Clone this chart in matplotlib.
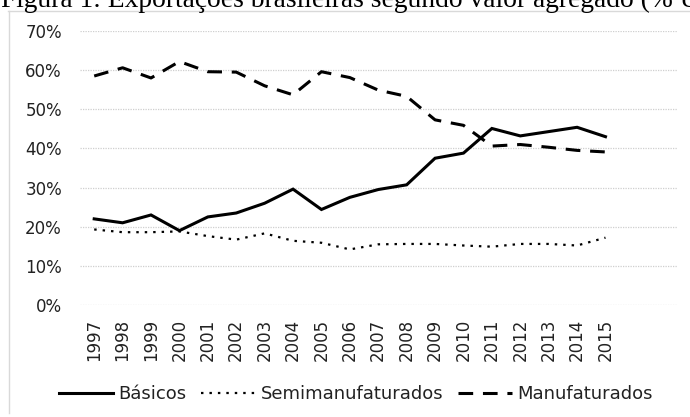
import matplotlib
matplotlib.use("Agg")
import matplotlib.pyplot as plt
from matplotlib.lines import Line2D
from matplotlib.ticker import FuncFormatter, MultipleLocator

years = ["1997", "1998", "1999", "2000", "2001", "2002", "2003", "2004", "2005", "2006",
         "2007", "2008", "2009", "2010", "2011", "2012", "2013", "2014", "2015"]
basicos = [22.0, 21.0, 23.0, 19.0, 22.5, 23.5, 26.0, 29.6, 24.4, 27.5,
           29.5, 30.7, 37.5, 38.8, 45.1, 43.2, 44.3, 45.4, 43.0]
semimanufaturados = [19.3, 18.6, 18.6, 18.8, 17.6, 16.7, 18.3, 16.4, 15.9, 14.2,
                     15.5, 15.6, 15.6, 15.2, 14.9, 15.6, 15.6, 15.2, 17.2]
manufaturados = [58.5, 60.6, 58.0, 62.2, 59.6, 59.5, 56.0, 53.7, 59.6, 58.1,
                 54.9, 53.3, 47.3, 45.9, 40.6, 41.0, 40.3, 39.5, 39.1]
series_names = ["Básicos", "Semimanufaturados", "Manufaturados"]
title_text = "Figura 1: Exportações brasileiras segundo valor agregado (% US$ FOB)"

W, H = 690, 417
fig = plt.figure(figsize=(W / 100, H / 100), dpi=100)

# axes placement in pixels
left_px, right_px, top_px, bottom_px = 80, 676.5, 31, 305
ax = fig.add_axes([left_px / W, 1 - bottom_px / H, (right_px - left_px) / W, (bottom_px - top_px) / H])

x = list(range(len(years)))
lw = 2.2
ax.plot(x, basicos, color="black", lw=lw, solid_joinstyle="miter", label=series_names[0])
l2, = ax.plot(x, semimanufaturados, color="black", lw=1.6, label=series_names[1])
l2.set_dashes([1.1, 2.7])
l3, = ax.plot(x, manufaturados, color="black", lw=lw, label=series_names[2])
l3.set_dashes([4.8, 3.2])

ax.set_xlim(-0.5, 20.5)
ax.set_ylim(0, 70)
ax.yaxis.set_major_locator(MultipleLocator(10))
ax.yaxis.set_major_formatter(FuncFormatter(lambda v, p: f"{v:.0f}%"))
ax.set_xticks(x)
ax.set_xticklabels(years, rotation=90, fontsize=12, color="#222222", family="DejaVu Sans")
for t in ax.get_yticklabels():
    t.set_fontsize(12)
    t.set_color("#222222")
ax.tick_params(axis="both", length=0)
ax.tick_params(axis="y", pad=13)
ax.tick_params(axis="x", pad=10)
ax.grid(axis="y", color="#cfcfcf", lw=0.9, ls=(0, (1, 1)))
ax.set_axisbelow(True)
for s in ax.spines.values():
    s.set_visible(False)

leg = fig.legend(handles=[ax.lines[0], l2, l3], labels=series_names, loc="center",
                 bbox_to_anchor=(356 / W, 1 - 394 / H), ncol=3, frameon=False,
                 fontsize=13, handlelength=3.0, handletextpad=0.3, columnspacing=0.8)
for t in leg.get_texts():
    t.set_color("#222222")

# outer frame lines (top and left)
fig.add_artist(Line2D([8 / W, 1.0], [1 - 10.5 / H, 1 - 10.5 / H], transform=fig.transFigure,
                      color="#d9d9d9", lw=1.0))
fig.add_artist(Line2D([8.5 / W, 8.5 / W], [1 - 10.5 / H, 1 - 413 / H], transform=fig.transFigure,
                      color="#d9d9d9", lw=1.0))

# caption (cropped at the top in the reference)
fig.text(1 / W, 1 - 7 / H, title_text, family="Liberation Serif", fontsize=19.8,
         va="baseline", ha="left", color="black")

fig.savefig("out.png", dpi=100)
